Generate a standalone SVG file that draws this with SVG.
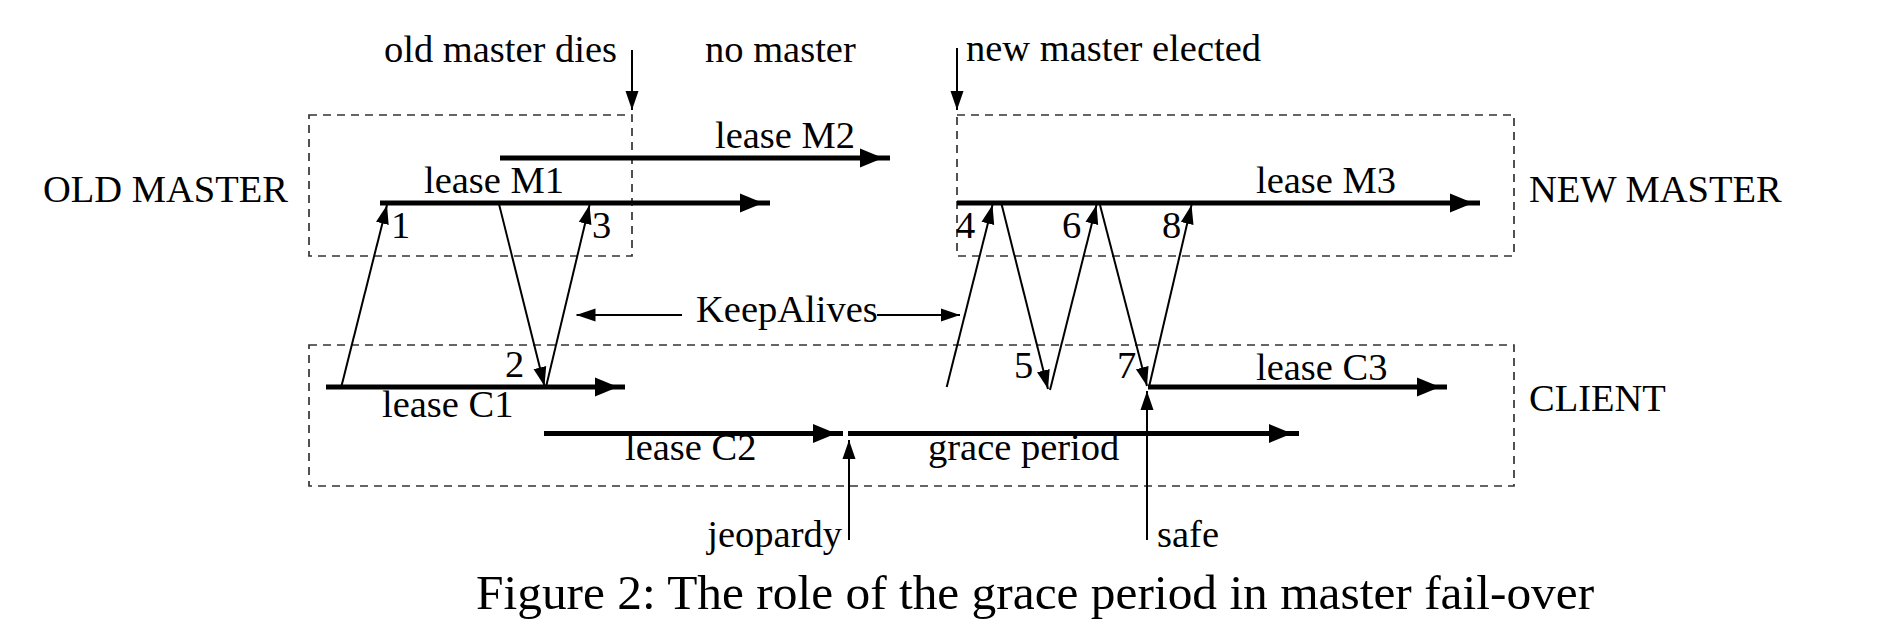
<svg xmlns="http://www.w3.org/2000/svg" width="1892" height="638" viewBox="0 0 1892 638">
<style>
text{font-family:"Liberation Serif","Times New Roman",serif;font-size:38.5px;fill:#000}
.cap{font-size:49.4px}
.box{fill:none;stroke:#333;stroke-width:1.7;stroke-dasharray:8 6}
.thick{stroke:#000;stroke-width:5;fill:none}
.thin{stroke:#000;stroke-width:2;fill:none;marker-end:url(#ah)}
.head{fill:#000}
</style>
<defs>
<marker id="ah" markerUnits="userSpaceOnUse" viewBox="0 -7 19 14" refX="19" refY="0" markerWidth="19" markerHeight="14" orient="auto">
<path d="M0,-6.5 L19,0 L0,6.5 z" fill="#000"/>
</marker>
</defs>
<rect width="1892" height="638" fill="#fff"/>

<g id="old-master">
<rect class="box" x="309" y="115" width="323" height="141"/>
<text x="43" y="202">OLD MASTER</text>
</g>
<g id="new-master">
<rect class="box" x="957" y="115" width="557" height="141"/>
<text x="1529" y="202">NEW MASTER</text>
</g>
<g id="client">
<rect class="box" x="309" y="345" width="1205" height="141"/>
<text x="1529" y="411">CLIENT</text>
</g>

<g id="leases">
<g id="lease-m2">
<line class="thick" x1="500" y1="158" x2="890" y2="158"/>
<polygon class="head" points="860,148.5 883,158 860,167.5"/>
<text x="715" y="148">lease M2</text>
</g>
<g id="lease-m1">
<line class="thick" x1="380" y1="203" x2="770" y2="203"/>
<polygon class="head" points="740,193.5 763,203 740,212.5"/>
<text x="424" y="193">lease M1</text>
</g>
<g id="lease-m3">
<line class="thick" x1="957" y1="203" x2="1480" y2="203"/>
<polygon class="head" points="1450,193.5 1473,203 1450,212.5"/>
<text x="1256" y="193">lease M3</text>
</g>
<g id="lease-c1">
<line class="thick" x1="326" y1="387" x2="625" y2="387"/>
<polygon class="head" points="595,377.5 618,387 595,396.5"/>
<text x="382" y="417">lease C1</text>
</g>
<g id="lease-c3">
<line class="thick" x1="1148" y1="387" x2="1447" y2="387"/>
<polygon class="head" points="1417,377.5 1440,387 1417,396.5"/>
<text x="1256" y="380">lease C3</text>
</g>
<g id="lease-c2">
<line class="thick" x1="544" y1="433.5" x2="843" y2="433.5"/>
<polygon class="head" points="813,424 836,433.5 813,443"/>
<text x="625" y="460">lease C2</text>
</g>
<g id="grace-period">
<line class="thick" x1="848" y1="433.5" x2="1299" y2="433.5"/>
<polygon class="head" points="1269,424 1292,433.5 1269,443"/>
<text x="928" y="460">grace period</text>
</g>
</g>

<g id="connectors">
<line class="thin" x1="632" y1="50" x2="632" y2="110"/>
<line class="thin" x1="957" y1="48" x2="957" y2="110"/>
<line class="thin" x1="341.5" y1="386" x2="387" y2="205"/>
<line class="thin" x1="499" y1="204" x2="544.5" y2="386"/>
<line class="thin" x1="546" y1="387" x2="589.5" y2="205"/>
<line class="thin" x1="946.7" y1="387" x2="992.5" y2="205"/>
<line class="thin" x1="1001.5" y1="204" x2="1048" y2="389"/>
<line class="thin" x1="1050" y1="390" x2="1096.5" y2="205"/>
<line class="thin" x1="1100" y1="205" x2="1147" y2="386"/>
<line class="thin" x1="1149" y1="387" x2="1191.5" y2="205"/>
<line class="thin" x1="682" y1="315" x2="576.5" y2="315"/>
<line class="thin" x1="877" y1="315" x2="960" y2="315"/>
<line class="thin" x1="849" y1="540" x2="849" y2="440"/>
<line class="thin" x1="1147" y1="540" x2="1147" y2="391"/>
</g>

<g id="labels">
<text x="384" y="62">old master dies</text>
<text x="705" y="62">no master</text>
<text x="966" y="61">new master elected</text>
<text x="696" y="322">KeepAlives</text>
<text x="842" y="547" text-anchor="end">jeopardy</text>
<text x="1157" y="547">safe</text>
<text x="391" y="238">1</text>
<text x="505" y="377">2</text>
<text x="592" y="238">3</text>
<text x="956" y="238">4</text>
<text x="1014" y="378">5</text>
<text x="1062" y="238">6</text>
<text x="1117" y="378">7</text>
<text x="1162" y="238">8</text>
</g>

<g id="caption">
<text class="cap" x="476" y="609">Figure 2: The role of the grace period in master fail-over</text>
</g>
</svg>
